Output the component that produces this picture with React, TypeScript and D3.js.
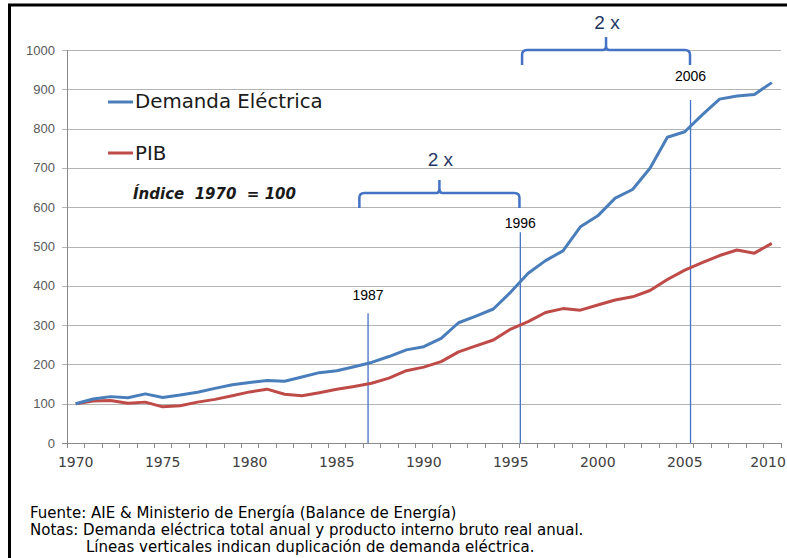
import React from "react";
import * as d3 from "d3";

const years: number[] = [
  1970, 1971, 1972, 1973, 1974, 1975, 1976, 1977, 1978, 1979,
  1980, 1981, 1982, 1983, 1984, 1985, 1986, 1987, 1988, 1989,
  1990, 1991, 1992, 1993, 1994, 1995, 1996, 1997, 1998, 1999,
  2000, 2001, 2002, 2003, 2004, 2005, 2006, 2007, 2008, 2009, 2010,
];
const demanda: number[] = [
  100, 112, 118, 115, 125, 116, 122, 129, 139, 148,
  154, 159, 157, 168, 179, 184, 194, 205, 220, 237,
  245, 266, 306, 323, 341, 384, 432, 464, 489, 550,
  578, 623, 645, 699, 778, 792, 835, 875, 883, 887, 917,
];
const pib: number[] = [
  100, 107, 108, 101, 104, 92, 95, 104, 111, 120,
  130, 137, 124, 120, 128, 137, 144, 152, 165, 184,
  193, 207, 232, 247, 262, 290, 309, 332, 342, 338,
  351, 364, 372, 388, 416, 440, 459, 477, 491, 483, 508,
];
const yTicks: number[] = [0, 100, 200, 300, 400, 500, 600, 700, 800, 900, 1000];
const xTickLabels: number[] = [1970, 1975, 1980, 1985, 1990, 1995, 2000, 2005, 2010];
// vertical markers: position (years), top value, label value, label
const markers: { pos: number; top: number; labelAt: number; label: string }[] = [
  { pos: 1986.8, top: 330, labelAt: 364, label: "1987" },
  { pos: 1995.55, top: 536, labelAt: 547, label: "1996" },
  { pos: 2005.33, top: 873, labelAt: 921, label: "2006" },
];
const braces: { from: number; to: number; level: number; labelAt: number; label: string }[] = [
  { from: 1986.3, to: 1995.5, level: 636, labelAt: 705, label: "2 x" },
  { from: 1995.65, to: 2005.3, level: 1000, labelAt: 1053, label: "2 x" },
];
const seriesNames: string[] = ["Demanda Eléctrica", "PIB"];
const footnotes: string[] = [
  "Fuente: AIE & Ministerio de Energía (Balance de Energía)",
  "Notas: Demanda eléctrica total anual y producto interno bruto real anual.",
  "Líneas verticales indican duplicación de demanda eléctrica.",
];

const BLUE = "#4a7ebb";
const RED = "#be4b48";
const MARK = "#4472c4";

export default function App() {
  const W = 787;
  const H = 558;
  const x = d3.scaleLinear().domain([1969.5, 2010.5]).range([67, 780.5]);
  const y = d3.scaleLinear().domain([0, 1000]).range([443, 50]);
  const line = d3
    .line<number>()
    .x((_, i) => x(years[i]))
    .y((d) => y(d));

  const bracePath = (x1: number, x2: number, yt: number) => {
    const xc = (x1 + x2) / 2;
    const yb = yt + 15;
    const r = 5;
    const peak = yt - 13;
    return [
      `M${x1},${yb}`,
      `L${x1},${yt + r}`,
      `Q${x1},${yt} ${x1 + r},${yt}`,
      `L${xc - 3},${yt}`,
      `Q${xc},${yt} ${xc},${yt - 4}`,
      `L${xc},${peak}`,
      `M${xc},${yt - 4}`,
      `Q${xc},${yt} ${xc + 3},${yt}`,
      `L${x2 - r},${yt}`,
      `Q${x2},${yt} ${x2},${yt + r}`,
      `L${x2},${yb}`,
    ].join(" ");
  };

  const axisFont = "'DejaVu Sans', Verdana, sans-serif";

  return (
    <svg width={W} height={H} style={{ position: "absolute", left: 0, top: 0 }}>
      <rect x={0} y={0} width={W} height={H} fill="#ffffff" />
      {/* frame */}
      <line x1={8} y1={5} x2={W} y2={5} stroke="#000" strokeWidth={3} />
      <line x1={9.5} y1={4} x2={9.5} y2={H} stroke="#000" strokeWidth={3} />

      {/* gridlines & y labels */}
      {yTicks.map((t) => (
        <g key={t}>
          <line
            x1={62}
            x2={781}
            y1={Math.round(y(t)) + 0.5}
            y2={Math.round(y(t)) + 0.5}
            stroke={t === 0 ? "#8a8a8a" : "#b4b4b4"}
            strokeWidth={1}
          />
          <text
            x={55}
            y={y(t)}
            dy="0.35em"
            textAnchor="end"
            fontSize={13}
            fill="#595959"
            fontFamily="'Liberation Sans', Arial, sans-serif"
          >
            {t}
          </text>
        </g>
      ))}
      {/* y axis line */}
      <line x1={67.5} x2={67.5} y1={y(1000)} y2={y(0)} stroke="#8a8a8a" />
      {/* x ticks */}
      {d3.range(years.length + 1).map((i) => (
        <line
          key={i}
          x1={Math.round(x(1969.5 + i)) + 0.5}
          x2={Math.round(x(1969.5 + i)) + 0.5}
          y1={443}
          y2={448}
          stroke="#8a8a8a"
        />
      ))}
      {xTickLabels.map((t) => (
        <text
          key={t}
          x={Math.min(x(t), W - 19)}
          y={467}
          textAnchor="middle"
          fontSize={14}
          fill="#404040"
          fontFamily={axisFont}
        >
          {t}
        </text>
      ))}

      {/* vertical markers */}
      {markers.map((m) => (
        <line
          key={m.label}
          x1={x(m.pos)}
          x2={x(m.pos)}
          y1={y(m.top)}
          y2={y(0)}
          stroke={MARK}
          strokeWidth={1.3}
        />
      ))}

      {/* series */}
      <path d={line(pib) || ""} fill="none" stroke={RED} strokeWidth={3} strokeLinejoin="round" />
      <path d={line(demanda) || ""} fill="none" stroke={BLUE} strokeWidth={3} strokeLinejoin="round" />

      {/* marker labels */}
      {markers.map((m) => (
        <text
          key={m.label}
          x={x(m.pos)}
          y={y(m.labelAt)}
          textAnchor="middle"
          fontSize={14}
          fill="#000"
          fontFamily="'Liberation Sans', Arial, sans-serif"
        >
          {m.label}
        </text>
      ))}

      {/* braces */}
      {braces.map((b, i) => {
        const x1 = x(b.from);
        const x2 = x(b.to);
        const yt = y(b.level);
        return (
          <g key={i}>
            <path
              d={bracePath(x1, x2, yt)}
              fill="none"
              stroke={MARK}
              strokeWidth={2.5}
              strokeLinecap="butt"
            />
            <text
              x={(x1 + x2) / 2 + 1}
              y={y(b.labelAt)}
              textAnchor="middle"
              fontSize={19}
              fill="#1f3864"
              fontFamily="'Liberation Sans', Arial, sans-serif"
            >
              {b.label}
            </text>
          </g>
        );
      })}

      {/* legend */}
      <line x1={108} x2={133} y1={102} y2={102} stroke={BLUE} strokeWidth={3} />
      <text x={135} y={108} fontSize={19.8} fill="#1a1a1a" fontFamily={axisFont}>
        {seriesNames[0]}
      </text>
      <line x1={108} x2={133} y1={153} y2={153} stroke={RED} strokeWidth={3} />
      <text x={135} y={160} fontSize={19.8} fill="#1a1a1a" fontFamily={axisFont}>
        {seriesNames[1]}
      </text>
      <text
        x={133}
        y={199}
        fontSize={15}
        fontWeight="bold"
        fontStyle="italic"
        fill="#1a1a1a"
        fontFamily={axisFont}
        style={{ whiteSpace: "pre" }}
      >
        {"Índice  1970  = 100"}
      </text>

      {/* footnotes */}
      <g fontFamily="'DejaVu Sans', Tahoma, sans-serif" fontSize={15} fill="#000">
        <text x={30} y={518}>{footnotes[0]}</text>
        <text x={30} y={535}>{footnotes[1]}</text>
        <text x={86} y={552}>{footnotes[2]}</text>
      </g>
    </svg>
  );
}
